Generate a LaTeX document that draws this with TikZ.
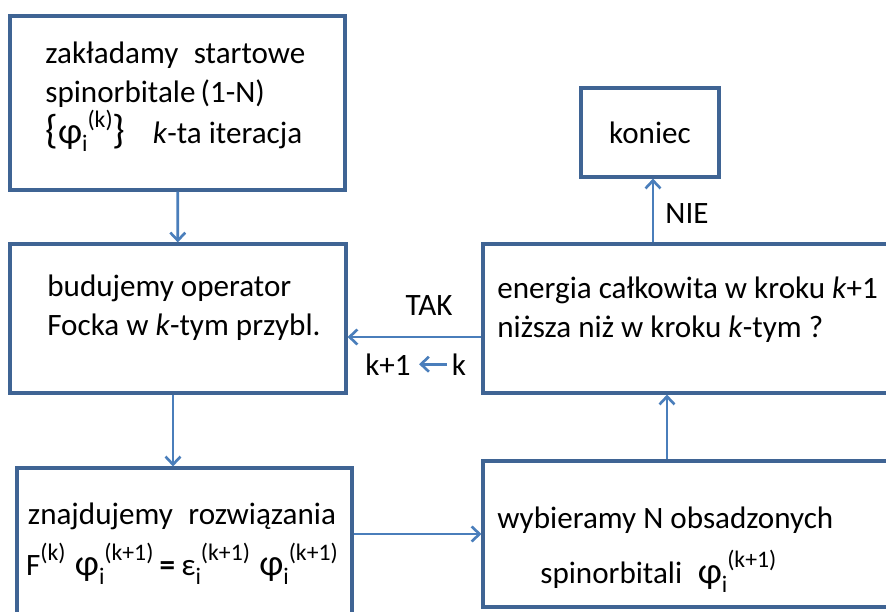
\documentclass[tikz,border=0pt]{standalone}
\usepackage{fontspec}
\setmainfont{Carlito}
\usepackage{xcolor}
\usetikzlibrary{calc,arrows.meta}

\definecolor{boxblue}{HTML}{3F6494}
\definecolor{arrowblue}{HTML}{4A7EBB}
\newcommand\supx[1]{\raisebox{0.5em}{\fontsize{13.5}{13.5}\selectfont#1}}
\newcommand\subx[1]{\raisebox{-0.28em}{\fontsize{13.5}{13.5}\selectfont#1}}
\newcommand\orb[1]{{\fontsize{21}{21}\selectfont φ}\subx{i}\supx{(#1)}}
\newcommand\bigbr[1]{{\fontsize{23}{23}\selectfont#1}}

\begin{document}
\begin{tikzpicture}[x=0.02cm, y=-0.02cm,
        box/.style={draw=boxblue, line width=1.8pt, inner sep=0pt},
        txt/.style={inner sep=0pt, align=left, font=\fontsize{17.7}{22}\selectfont},
        flow/.style={draw=arrowblue, line width=1.5pt,
            -{Straight Barb[length=4.5pt,width=8.5pt]}}]
    \useasboundingbox (0,0) rectangle (886,612);
    \clip (0,0) rectangle (886,612);

    % boxes
    \node[box, minimum width=6.7cm, minimum height=3.48cm] (start) at (177.5,103) {};
    \node[box, minimum width=6.72cm, minimum height=2.98cm] (fock) at (178,318.5) {};
    \node[box, minimum width=6.7cm, minimum height=3.24cm] (solve) at (184.5,549) {};
    \node[box, minimum width=2.76cm, minimum height=1.78cm, txt] (end) at (650,132.5) {koniec};
    \node[box, minimum width=8.24cm, minimum height=2.98cm] (energy) at (689,318.5) {};
    \node[box, minimum width=8.24cm, minimum height=2.92cm] (pick) at (689,534) {};

    % texts
    \node[txt, anchor=north west] (startT) at (45,42)
        {zakładamy\hspace{0.5em}startowe\\
         spinorbitale\,(1-N)\\[1pt]
         \bigbr{\{}\orb{k}\bigbr{\}}\hspace{0.55cm}\textit{k}-ta iteracja};
    \node[txt, anchor=north west] (fockT) at (47,275)
        {budujemy operator\\ Focka w \textit{k}-tym przybl.};
    \node[txt, anchor=north west] (energyT) at (497,277)
        {energia całkowita w kroku \textit{k}+1\\ niższa niż w kroku \textit{k}-tym ?};
    \node[txt, anchor=north, align=center] (solveT) at (182,503)
        {znajdujemy\hspace{0.5em}rozwiązania\\[7pt]
         F\supx{(k)}\hspace{0.3em}\orb{k+1}\hspace{0.2em}\textbf{=}\hspace{0.2em}ε\subx{i}\supx{(k+1)}\hspace{0.3em}\orb{k+1}};
    \node[txt, anchor=north west] (pickT) at (497,507)
        {wybieramy N obsadzonych\\[9pt]
         \hspace*{0.86cm}spinorbitali\hspace{0.5em}\orb{k+1}};

    % labels
    \node[txt] (tak) at (429,305.5) {TAK};
    \node[txt] (nie) at (687,213.5) {NIE};
    \node[txt, anchor=base] (kp) at (388,375) {k+1};
    \node[txt, anchor=base] (k) at (459,375) {k};

    % connectors
    \draw[flow] (start) -- (fock);
    \draw[flow] ([xshift=-0.1cm]fock.south) -- ([xshift=-0.1cm]fock.south |- solve.north);
    \draw[flow] (pick.west -| solve.east) -- (pick.west);
    \draw[flow] ([xshift=-0.44cm]pick.north) -- ([xshift=-0.44cm]energy.south);
    \draw[flow] ([yshift=-0.37cm]energy.west) -- ([yshift=-0.37cm]energy.west -| fock.east);
    \draw[flow] ([xshift=0.06cm]energy.north -| end.south) -- ([xshift=0.06cm]end.south);
    \draw[flow, shorten <=0.1cm, shorten >=0.16cm] (k.west) -- (kp.east);
\end{tikzpicture}
\end{document}
